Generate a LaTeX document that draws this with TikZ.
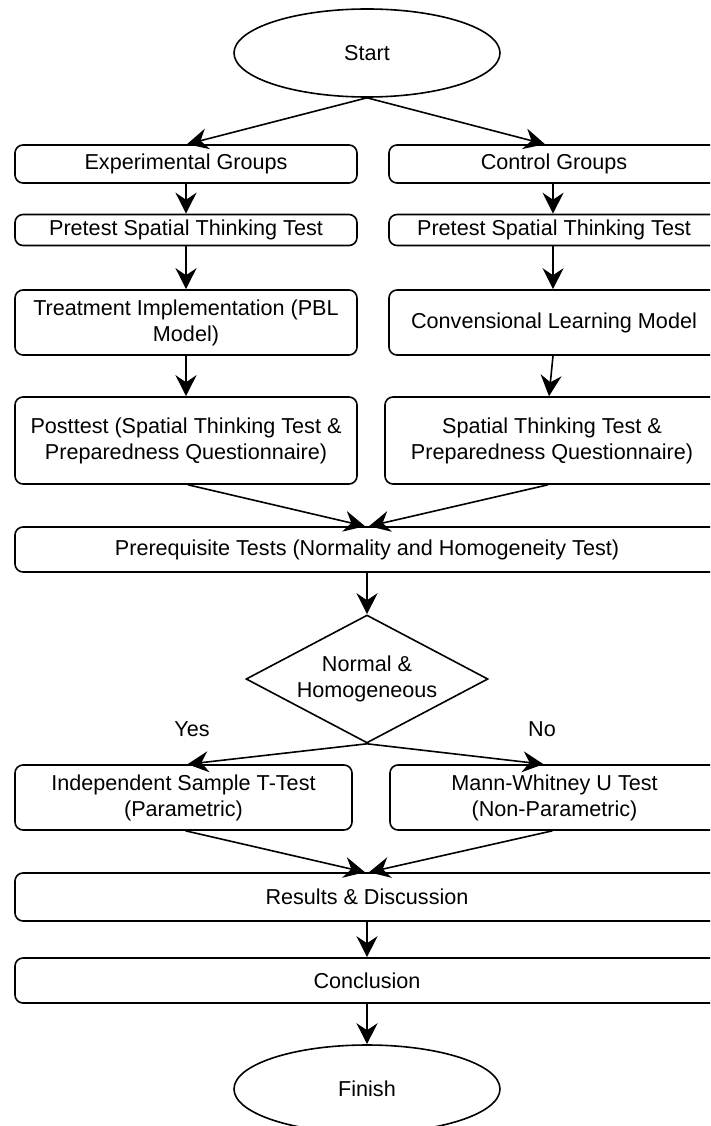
\documentclass[tikz,border=0pt]{standalone}
\usepackage{fontspec}
\setmainfont{Liberation Sans}
\usetikzlibrary{shapes.geometric,arrows.meta,calc}
\begin{document}
\begin{tikzpicture}[x=1pt,y=-1pt,
  every node/.style={font=\fontsize{21.6}{26}\selectfont},
  box/.style={draw, rounded corners=8pt, line width=1.6pt, align=center, inner sep=0pt, fill=white},
  oval/.style={draw, ellipse, line width=1.6pt, minimum width=266pt, minimum height=88pt, inner sep=0pt, fill=white},
  decide/.style={draw, diamond, line width=1.6pt, minimum width=242pt, minimum height=128pt, inner sep=0pt, align=center, aspect=1.9},
  arr/.style={line width=1.6pt, -{Stealth[length=21pt,width=21pt,inset=7pt]}},
  lbl/.style={inner sep=0pt}]
\useasboundingbox (0,0) rectangle (710,1126);
\fill[white] (0,0) rectangle (710,1126);
\clip (0,0) rectangle (710,1126);

\node[oval] (start) at (367,53) {Start};
\node[box, minimum width=342pt, minimum height=38pt] (exp) at (186,164) {Experimental Groups};
\node[box, minimum width=330pt, minimum height=38pt] (ctl) at (554,164) {Control Groups};
\node[box, minimum width=342pt, minimum height=31pt] (preL) at (186,230) {Pretest Spatial Thinking Test};
\node[box, minimum width=330pt, minimum height=31pt] (preR) at (554,230) {Pretest Spatial Thinking Test};
\node[box, minimum width=342pt, minimum height=65pt] (treat) at (186,322.5) {Treatment Implementation (PBL\\Model)};
\node[box, minimum width=330pt, minimum height=65pt] (conv) at (554,322.5) {Convensional Learning Model};
\node[box, minimum width=342pt, minimum height=87pt] (postL) at (186,440.5) {Posttest (Spatial Thinking Test \&\\Preparedness Questionnaire)};
\node[box, minimum width=334pt, minimum height=87pt] (postR) at (552,440.5) {Spatial Thinking Test \&\\Preparedness Questionnaire)};
\node[box, minimum width=704pt, minimum height=45pt] (prereq) at (367,549.5) {Prerequisite Tests (Normality and Homogeneity Test)};
\node[decide] (dec) at (367,679) {Normal \&\\Homogeneous};
\node[box, minimum width=337pt, minimum height=65pt] (indep) at (183.5,797.5) {Independent Sample T-Test\\(Parametric)};
\node[box, minimum width=329pt, minimum height=65pt] (mann) at (554.5,797.5) {Mann-Whitney U Test\\(Non-Parametric)};
\node[box, minimum width=704pt, minimum height=48pt] (res) at (367,897) {Results \& Discussion};
\node[box, minimum width=704pt, minimum height=45pt] (concl) at (367,980.5) {Conclusion};
\node[oval] (fin) at (367,1089) {Finish};

\node[lbl] (yes) at (192,729) {Yes};
\node[lbl] (no) at (542,729) {No};

\draw[arr] (start.south) -- ([xshift=1pt]exp.north);
\draw[arr] (start.south) -- ([xshift=-9pt]ctl.north);
\draw[arr] (exp.south) -- (preL.north);
\draw[arr] ([xshift=-1pt]ctl.south) -- ([xshift=-1pt]preR.north);
\draw[arr] (preL.south) -- (treat.north);
\draw[arr] ([xshift=-1pt]preR.south) -- ([xshift=-1pt]conv.north);
\draw[arr] (treat.south) -- (postL.north);
\draw[arr] ([xshift=-1pt]conv.south) -- ([xshift=-3pt]postR.north);
\draw[arr] ([xshift=2pt]postL.south) -- ([xshift=-2pt]prereq.north);
\draw[arr] ([xshift=-4pt]postR.south) -- ([xshift=2pt]prereq.north);
\draw[arr] (prereq.south) -- (dec.north);
\draw[arr] (dec.south) -- ([xshift=4pt]indep.north);
\draw[arr] (dec.south) -- ([xshift=-11pt]mann.north);
\draw[arr] ([xshift=2pt]indep.south) -- ([xshift=-2pt]res.north);
\draw[arr] ([xshift=-2pt]mann.south) -- ([xshift=2pt]res.north);
\draw[arr] (res.south) -- (concl.north);
\draw[arr] (concl.south) -- (fin.north);
\end{tikzpicture}
\end{document}
